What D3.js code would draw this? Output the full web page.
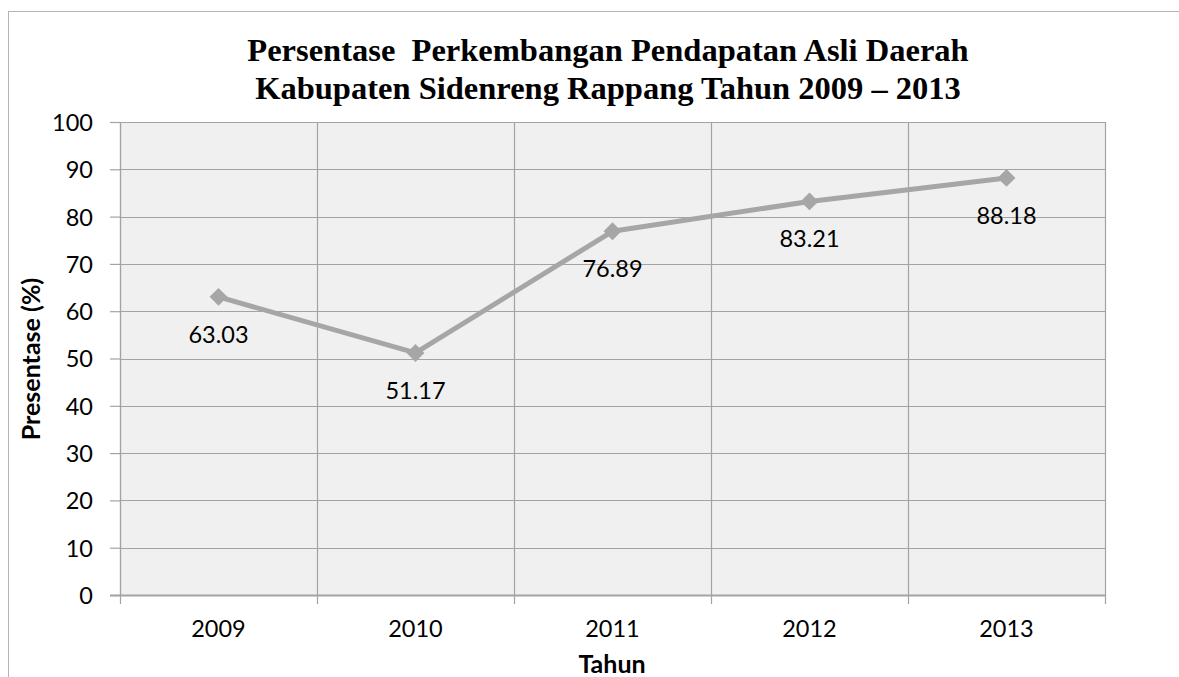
<!DOCTYPE html>
<html>
<head>
<meta charset="utf-8">
<script src="https://cdn.jsdelivr.net/npm/d3@7"></script>
<style>
  html, body { margin: 0; padding: 0; background: #fff; }
  svg { display: block; }
</style>
</head>
<body>
<svg id="chart" width="1179" height="677"></svg>
<script>
const years = ["2009", "2010", "2011", "2012", "2013"];
const values = [63.03, 51.17, 76.89, 83.21, 88.18];
const yTicks = [0, 10, 20, 30, 40, 50, 60, 70, 80, 90, 100];
const titleLines = ["Persentase  Perkembangan Pendapatan Asli Daerah", "Kabupaten Sidenreng Rappang Tahun 2009 \u2013 2013"];
const yTitle = "Presentase (%)";
const xTitle = "Tahun";

const svg = d3.select("#chart");
const W = 1179, H = 677;
const plot = { left: 120, right: 1105, top: 122, bottom: 595 };
const gridColor = "#a3a3a3";
const lineColor = "#a6a6a6";
const labelFont = "Lato, 'Open Sans', sans-serif";
const labelSize = 23.5;

// outer chart border
svg.append("rect")
  .attr("x", 8.5).attr("y", 11.5)
  .attr("width", W + 10).attr("height", H + 10)
  .attr("fill", "#fff").attr("stroke", "#b3b3b3").attr("stroke-width", 1);

const x = d3.scaleBand().domain(years).range([plot.left, plot.right]).padding(0);
const y = d3.scaleLinear().domain([0, 100]).range([plot.bottom, plot.top]);

// plot background
svg.append("rect")
  .attr("x", plot.left).attr("y", plot.top)
  .attr("width", plot.right - plot.left).attr("height", plot.bottom - plot.top)
  .attr("fill", "#f0f0f0");

// y axis
const yAxis = d3.axisLeft(y).tickValues(yTicks).tickSize(10).tickPadding(17).tickFormat(d3.format("d"));
const gy = svg.append("g").attr("transform", `translate(${plot.left},0)`).call(yAxis);
gy.select(".domain").attr("stroke", gridColor).attr("stroke-width", 1.2);
gy.selectAll(".tick line").attr("stroke", gridColor).attr("stroke-width", 1.2);
gy.selectAll(".tick text")
  .attr("font-family", labelFont).attr("font-size", labelSize).attr("fill", "#000")
  .attr("dy", "0.36em");

// horizontal gridlines
svg.append("g").selectAll("line").data(yTicks.filter(d => d > 0)).join("line")
  .attr("x1", plot.left).attr("x2", plot.right)
  .attr("y1", d => Math.round(y(d)) + 0.5).attr("y2", d => Math.round(y(d)) + 0.5)
  .attr("stroke", gridColor).attr("stroke-width", 1.2);

// vertical gridlines at category boundaries
const bounds = years.map(d => x(d)).concat([x(years[years.length - 1]) + x.bandwidth()]);
svg.append("g").selectAll("line").data(bounds).join("line")
  .attr("x1", d => Math.round(d) + 0.5).attr("x2", d => Math.round(d) + 0.5)
  .attr("y1", plot.top).attr("y2", plot.bottom + 9)
  .attr("stroke", gridColor).attr("stroke-width", 1.2);

// x axis line
svg.append("line")
  .attr("x1", plot.left - 10).attr("x2", plot.right)
  .attr("y1", plot.bottom + 0.5).attr("y2", plot.bottom + 0.5)
  .attr("stroke", gridColor).attr("stroke-width", 2);

// x axis labels
const xAxis = d3.axisBottom(x).tickSize(0).tickPadding(0);
const gx = svg.append("g").attr("transform", `translate(0,${plot.bottom})`).call(xAxis);
gx.select(".domain").remove();
gx.selectAll(".tick text")
  .attr("font-family", labelFont).attr("font-size", labelSize).attr("fill", "#000")
  .attr("dy", 0).attr("y", 42);

// line
const line = d3.line().x((d, i) => x(years[i]) + x.bandwidth() / 2).y(d => y(d));
svg.append("path").datum(values)
  .attr("d", line).attr("fill", "none")
  .attr("stroke", lineColor).attr("stroke-width", 5).attr("stroke-linejoin", "round");

// diamond markers
const sym = d3.symbol().type(d3.symbolSquare).size(160);
svg.append("g").selectAll("path").data(values).join("path")
  .attr("d", sym)
  .attr("transform", (d, i) => `translate(${x(years[i]) + x.bandwidth() / 2},${y(d)}) rotate(45)`)
  .attr("fill", lineColor);

// data labels
svg.append("g").selectAll("text").data(values).join("text")
  .attr("x", (d, i) => x(years[i]) + x.bandwidth() / 2)
  .attr("y", d => y(d) + 46)
  .attr("text-anchor", "middle")
  .attr("font-family", labelFont).attr("font-size", labelSize).attr("fill", "#000")
  .text(d => d.toFixed(2));

// title
svg.append("g").selectAll("text").data(titleLines).join("text")
  .attr("x", 608)
  .attr("y", (d, i) => 61 + i * 38)
  .attr("text-anchor", "middle")
  .attr("font-family", "'Liberation Serif', 'Times New Roman', serif")
  .attr("font-weight", "bold").attr("font-size", 32.5).attr("fill", "#000")
  .attr("xml:space", "preserve")
  .style("white-space", "pre")
  .text(d => d);

// axis titles
svg.append("text")
  .attr("transform", `translate(40,359) rotate(-90)`)
  .attr("text-anchor", "middle")
  .attr("font-family", labelFont).attr("font-weight", "bold").attr("font-size", 25)
  .attr("fill", "#000")
  .text(yTitle);

svg.append("text")
  .attr("x", 612).attr("y", 673)
  .attr("text-anchor", "middle")
  .attr("font-family", labelFont).attr("font-weight", "bold").attr("font-size", 25)
  .attr("fill", "#000")
  .text(xTitle);
</script>
</body>
</html>
